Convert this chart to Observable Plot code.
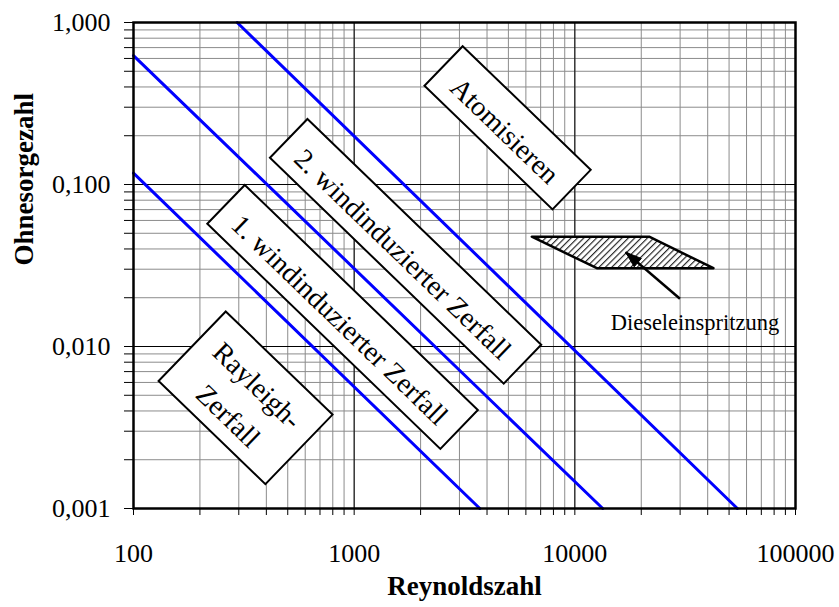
<!DOCTYPE html>
<html><head><meta charset="utf-8">
<script src="https://cdn.jsdelivr.net/npm/d3@7"></script>
<script src="https://cdn.jsdelivr.net/npm/@observablehq/plot@0.6"></script>
<style>body{margin:0;background:#fff}</style>
</head><body><div id="chart"></div>
<script>
// ---------- data ----------
const xTickValues = [100, 1000, 10000, 100000];
const xTickLabels = ["100", "1000", "10000", "100000"];
const yTickValues = [0.001, 0.01, 0.1, 1];
const yTickLabels = ["0,001", "0,010", "0,100", "1,000"];
const xTitle = "Reynoldszahl";
const yTitle = "Ohnesorgezahl";

// regime boundary lines (start and end point, Re / Oh)
const lineIds = ["A", "B", "C"];
const lineRe0 = [100, 100, 295];
const lineOh0 = [0.1175, 0.625, 1.0];
const lineRe1 = [3710, 13380, 54520];
const lineOh1 = [0.001, 0.001, 0.001];

// regime labels (centre of box, Re / Oh)
const regionLabels = ["Rayleigh-\nZerfall", "1. windinduzierter Zerfall", "2. windinduzierter Zerfall", "Atomisieren"];
const regionRe = [322, 886, 1710, 4957];
const regionOh = [0.00482, 0.01523, 0.0387, 0.2239];

// diesel injection parallelogram
const dieselOh = [0.0473, 0.0302];
const dieselLeftRe = [6415, 12650];
const dieselRightRe = [21830, 42700];
const dieselLabel = ["Dieseleinspritzung"];
const dieselLabelRe = [14530];
const dieselLabelOh = [0.01406];
const arrowRe = [29950, 16990];
const arrowOh = [0.0197, 0.0382];

// ---------- styles ----------
const serif = "'Liberation Serif', 'Times New Roman', Times, serif";
const boxW = [148.5, 324, 325, 178];
const boxH = [96.7, 54, 54, 55];
const boxAngle = 44;
const headAngle = -139.4;

// ---------- build ----------
const lines = lineIds.flatMap((id, i) => [
  {id, re: lineRe0[i], oh: lineOh0[i]},
  {id, re: lineRe1[i], oh: lineOh1[i]}
]);
const regions = regionLabels.map((label, i) => ({label, re: regionRe[i], oh: regionOh[i], i}));
const diesel = dieselOh.map((oh, i) => ({oh, x1: dieselLeftRe[i], x2: dieselRightRe[i]}));
const arrow = [{x1: arrowRe[0], y1: arrowOh[0], x2: arrowRe[1], y2: arrowOh[1]}];

const decadesX = [100, 1000, 10000];
const decadesY = [0.001, 0.01, 0.1];
const minorX = decadesX.flatMap(d => d3.range(1, 10).map(k => k * d)).concat([100000]);
const minorY = decadesY.flatMap(d => d3.range(1, 10).map(k => +(k * d).toPrecision(6))).concat([1]);

function fmt(values, labels) {
  return v => {
    const i = values.findIndex(t => Math.abs(t - v) / t < 1e-6);
    return i >= 0 ? labels[i] : "";
  };
}

function boxSymbol(w, h, deg) {
  const a = deg * Math.PI / 180, c = Math.cos(a), s = Math.sin(a);
  return {draw(ctx) {
    const pts = [[-w/2, -h/2], [w/2, -h/2], [w/2, h/2], [-w/2, h/2]].map(([x, y]) => [x * c - y * s, x * s + y * c]);
    ctx.moveTo(pts[0][0], pts[0][1]);
    for (let k = 1; k < 4; k++) ctx.lineTo(pts[k][0], pts[k][1]);
    ctx.closePath();
  }};
}
function headSymbol(len, wid, deg) {
  const a = deg * Math.PI / 180, dx = Math.cos(a), dy = Math.sin(a);
  return {draw(ctx) {
    const bx = -dx * len, by = -dy * len;
    ctx.moveTo(0, 0);
    ctx.lineTo(bx - dy * wid / 2, by + dx * wid / 2);
    ctx.lineTo(bx + dy * wid / 2, by - dx * wid / 2);
    ctx.closePath();
  }};
}

const boxMarks = regions.map(r => Plot.dot([r], {
  x: "re", y: "oh", symbol: boxSymbol(boxW[r.i], boxH[r.i], boxAngle),
  fill: "white", stroke: "black", strokeWidth: 2
}));

const plot = Plot.plot({
  width: 839,
  height: 607,
  marginLeft: 133,
  marginRight: 44,
  marginTop: 22,
  marginBottom: 99,
  style: {fontFamily: serif, fontSize: "26px", background: "white", color: "black"},
  x: {type: "log", domain: [100, 100000], ticks: minorX, tickFormat: fmt(xTickValues, xTickLabels), tickSize: 7, tickPadding: 28, label: null},
  y: {type: "log", domain: [0.001, 1], ticks: minorY, tickFormat: fmt(yTickValues, yTickLabels), tickSize: 9, tickPadding: 14, label: null},
  marks: [
    Plot.ruleX(minorX, {stroke: "#8c8c8c", strokeWidth: 1}),
    Plot.ruleY(minorY, {stroke: "#8c8c8c", strokeWidth: 1}),
    Plot.ruleX(xTickValues, {stroke: "#000", strokeWidth: 1}),
    Plot.ruleY(yTickValues, {stroke: "#000", strokeWidth: 1}),
    Plot.line(lines, {x: "re", y: "oh", z: "id", stroke: "#0000ff", strokeWidth: 3}),
    ...boxMarks,
    Plot.text(regions, {x: "re", y: "oh", text: "label", rotate: boxAngle, fontSize: 28, lineHeight: 1.5, fontFamily: serif, fill: "black"}),
    Plot.areaX(diesel, {y: "oh", x1: "x1", x2: "x2", fill: "url(#hatch)", stroke: "black", strokeWidth: 2.5}),
    Plot.link(arrow, {x1: "x1", y1: "y1", x2: "x2", y2: "y2", stroke: "black", strokeWidth: 2.5}),
    Plot.dot(arrow, {x: "x2", y: "y2", symbol: headSymbol(16, 11, headAngle), fill: "black", stroke: "black", strokeWidth: 1}),
    Plot.text(dieselLabel, {x: () => dieselLabelRe[0], y: () => dieselLabelOh[0], text: d => d, textAnchor: "start", fontSize: 22.5, fontFamily: serif}),
    Plot.text([xTitle], {frameAnchor: "bottom", dy: 86, text: d => d, fontWeight: "bold", fontSize: 27, fontFamily: serif}),
    Plot.text([yTitle], {frameAnchor: "left", dx: -109, rotate: -90, text: d => d, fontWeight: "bold", fontSize: 27, fontFamily: serif}),
    Plot.frame({stroke: "black", strokeWidth: 2.5})
  ]
});

const svg = d3.select(plot);
const pat = svg.insert("defs", ":first-child").append("pattern")
  .attr("id", "hatch").attr("patternUnits", "userSpaceOnUse")
  .attr("width", 4.5).attr("height", 4.5).attr("patternTransform", "rotate(45)");
pat.append("rect").attr("width", 4.5).attr("height", 4.5).attr("fill", "white");
pat.append("line").attr("x1", 0.5).attr("y1", 0).attr("x2", 0.5).attr("y2", 4.5).attr("stroke", "#222").attr("stroke-width", 1.3);

document.getElementById("chart").appendChild(plot);
</script>
</body></html>
